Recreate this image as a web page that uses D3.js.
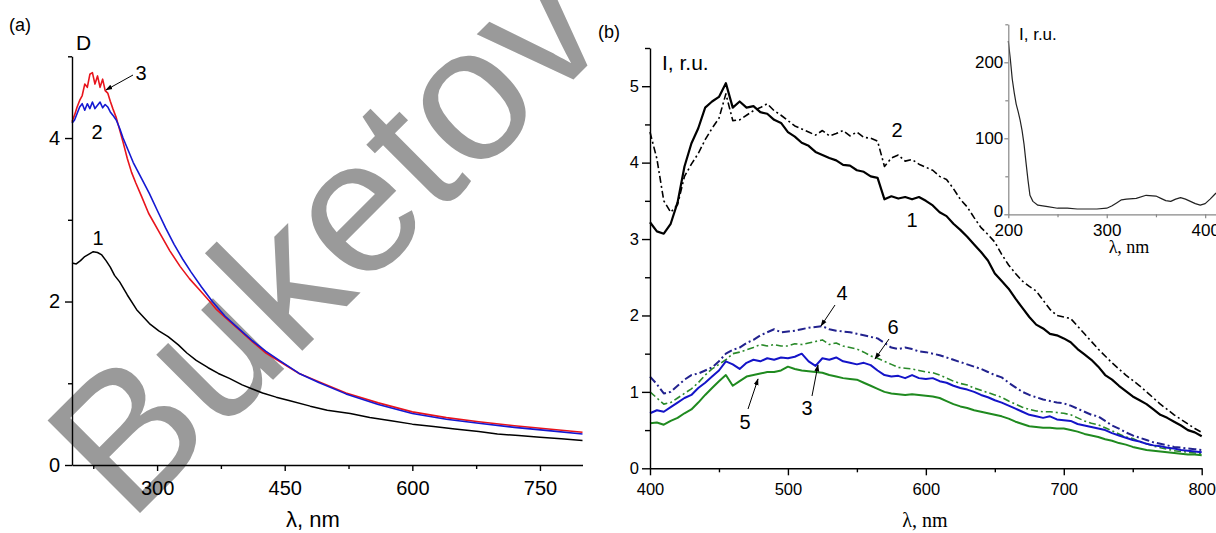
<!DOCTYPE html>
<html><head><meta charset="utf-8">
<script src="https://cdn.jsdelivr.net/npm/d3@7"></script>
<style>body{margin:0;background:#fff}svg{display:block}</style>
</head><body>
<script>
// ---------- Panel (a) data: absorption D vs wavelength ----------
const aTicksMajor = [300, 450, 600, 750];
const aTicksMinor = [225, 375, 525, 675];
const aYMajor = [0, 2, 4];
const aYMinor = [1, 3, 5];

const a1Lambda = [200,205,210,215,220,225,230,235,240,245,250,256,265,276,291,302,313,325,335,346,360,372,385,400,412,424,440,455,480,500,527,550,575,600,625,650,678,700,725,750,775,800];
const a1D      = [2.47,2.46,2.50,2.55,2.58,2.61,2.60,2.57,2.50,2.42,2.32,2.24,2.08,1.90,1.73,1.64,1.57,1.47,1.37,1.28,1.19,1.12,1.06,0.98,0.93,0.88,0.83,0.79,0.72,0.67,0.63,0.58,0.54,0.50,0.47,0.44,0.41,0.38,0.36,0.34,0.32,0.30];

const a2Lambda = [200,203,206,209,212,215,218,221,224,227,230,233,236,239,242,245,248,252,256,260,266,272,282,291,300,310,320,330,340,352,365,380,397,412,428,445,467,490,522,560,600,640,678,720,760,800];
const a2D      = [4.18,4.22,4.30,4.38,4.42,4.34,4.42,4.36,4.44,4.36,4.40,4.44,4.37,4.41,4.38,4.32,4.28,4.22,4.12,4.00,3.85,3.70,3.50,3.32,3.12,2.90,2.70,2.52,2.36,2.18,2.00,1.82,1.66,1.52,1.39,1.27,1.12,1.01,0.87,0.74,0.63,0.56,0.51,0.46,0.42,0.38];

const a3Lambda = [200,203,206,209,212,215,218,221,224,227,230,233,236,239,242,245,248,252,256,260,265,270,275,282,290,303,315,327,338,350,362,370,384,397,412,428,445,467,490,522,560,600,640,678,720,760,800];
const a3D      = [4.20,4.28,4.38,4.46,4.52,4.66,4.62,4.78,4.80,4.66,4.76,4.62,4.72,4.58,4.55,4.45,4.36,4.25,4.10,3.95,3.75,3.58,3.45,3.28,3.08,2.84,2.62,2.43,2.28,2.14,2.00,1.90,1.77,1.65,1.51,1.37,1.26,1.12,1.02,0.88,0.76,0.65,0.58,0.53,0.48,0.44,0.40];

// ---------- Panel (b) data: emission intensity ----------
const bTicksMajor = [400, 500, 600, 700, 800];
const bTicksMinor = [450, 550, 650, 750];
const bYMajor = [0, 1, 2, 3, 4, 5];
const bYMinor = [0.5, 1.5, 2.5, 3.5, 4.5, 5.5];

const bLambda = [400,405,410,415,420,425,430,435,440,445,450,455,460,465,470,475,480,485,490,495,500,505,510,515,520,525,530,535,540,545,550,555,560,565,570,575,580,585,590,595,600,605,610,615,620,625,630,635,640,645,650,655,660,665,670,675,680,685,690,695,700,705,710,715,720,725,730,735,740,745,750,755,760,765,770,775,780,785,790,795,800];

const b1 = [3.22,3.10,3.07,3.20,3.48,3.95,4.25,4.45,4.72,4.80,4.86,5.04,4.72,4.80,4.72,4.74,4.66,4.64,4.56,4.52,4.40,4.34,4.26,4.22,4.14,4.10,4.06,4.03,3.97,3.96,3.90,3.88,3.82,3.80,3.52,3.56,3.53,3.55,3.52,3.55,3.50,3.44,3.35,3.30,3.20,3.12,3.03,2.93,2.83,2.72,2.55,2.45,2.35,2.22,2.10,1.98,1.88,1.83,1.76,1.74,1.70,1.65,1.56,1.49,1.42,1.33,1.22,1.16,1.08,1.01,0.94,0.89,0.84,0.77,0.70,0.66,0.61,0.56,0.50,0.47,0.42];
const b2 = [4.40,4.05,3.50,3.35,3.45,3.82,3.98,4.12,4.30,4.45,4.58,4.90,4.55,4.56,4.62,4.68,4.72,4.77,4.68,4.62,4.55,4.48,4.44,4.40,4.36,4.42,4.35,4.38,4.42,4.35,4.40,4.33,4.32,4.28,3.95,4.06,4.10,4.02,4.04,3.98,3.94,3.90,3.82,3.78,3.66,3.52,3.42,3.28,3.15,3.06,2.96,2.80,2.66,2.55,2.45,2.38,2.32,2.20,2.08,2.00,1.98,1.96,1.86,1.76,1.66,1.56,1.47,1.38,1.30,1.22,1.15,1.08,1.00,0.92,0.84,0.77,0.70,0.64,0.58,0.52,0.47];
const b3 = [0.72,0.76,0.74,0.80,0.86,0.92,0.96,1.05,1.12,1.20,1.28,1.40,1.36,1.30,1.38,1.42,1.40,1.44,1.42,1.45,1.44,1.46,1.50,1.40,1.34,1.44,1.42,1.45,1.40,1.38,1.36,1.38,1.35,1.28,1.22,1.20,1.21,1.18,1.22,1.18,1.17,1.18,1.14,1.12,1.08,1.05,1.03,1.00,0.96,0.93,0.89,0.86,0.82,0.78,0.74,0.70,0.68,0.66,0.68,0.64,0.63,0.62,0.58,0.56,0.54,0.52,0.50,0.46,0.43,0.40,0.37,0.35,0.32,0.30,0.29,0.27,0.26,0.24,0.23,0.22,0.21];
const b4 = [1.20,1.10,0.98,1.00,1.08,1.16,1.22,1.24,1.28,1.32,1.40,1.50,1.55,1.58,1.64,1.68,1.74,1.78,1.82,1.78,1.79,1.80,1.82,1.84,1.85,1.86,1.82,1.80,1.79,1.78,1.76,1.74,1.72,1.70,1.64,1.58,1.56,1.58,1.56,1.53,1.52,1.50,1.48,1.45,1.42,1.39,1.36,1.33,1.30,1.26,1.22,1.19,1.12,1.06,1.00,0.96,0.93,0.90,0.88,0.86,0.85,0.82,0.78,0.74,0.70,0.68,0.62,0.56,0.52,0.47,0.43,0.40,0.37,0.34,0.32,0.30,0.28,0.27,0.26,0.25,0.24];
const b5 = [0.59,0.60,0.57,0.62,0.66,0.72,0.77,0.86,0.96,1.05,1.14,1.22,1.08,1.14,1.20,1.22,1.24,1.26,1.26,1.28,1.33,1.30,1.28,1.27,1.26,1.25,1.22,1.20,1.18,1.17,1.16,1.12,1.08,1.04,1.00,0.98,0.97,0.96,0.97,0.96,0.95,0.94,0.92,0.88,0.84,0.81,0.79,0.76,0.74,0.72,0.70,0.68,0.65,0.61,0.58,0.55,0.54,0.53,0.53,0.52,0.52,0.50,0.48,0.45,0.43,0.41,0.38,0.36,0.33,0.31,0.28,0.26,0.24,0.23,0.22,0.21,0.20,0.19,0.18,0.18,0.17];
const b6 = [1.00,0.92,0.84,0.86,0.92,0.98,1.04,1.12,1.22,1.30,1.36,1.42,1.50,1.52,1.55,1.58,1.62,1.60,1.62,1.60,1.60,1.63,1.62,1.64,1.66,1.68,1.62,1.64,1.60,1.58,1.56,1.52,1.47,1.44,1.40,1.36,1.32,1.31,1.30,1.28,1.26,1.25,1.22,1.18,1.14,1.11,1.09,1.05,1.02,0.99,0.96,0.93,0.88,0.84,0.80,0.77,0.75,0.74,0.74,0.73,0.72,0.70,0.66,0.62,0.59,0.57,0.53,0.49,0.45,0.41,0.39,0.35,0.32,0.29,0.27,0.25,0.23,0.22,0.21,0.20,0.19];

// ---------- Inset data ----------
const insXMajor = [200, 300, 400];
const insXMinor = [250, 350];
const insYMajor = [0, 100, 200];
const insYMinor = [50, 150, 250];
const insLambda = [200,202,204,206,208,210,212,214,216,218,220,222,225,230,240,250,260,270,280,290,300,305,310,315,320,330,340,350,355,360,365,370,375,380,385,390,395,400,405,411];
const insI      = [228,205,178,160,145,135,124,110,92,68,45,25,17,12,10,8,8,7,7,7,8,11,15,19,20,21,25,24,21,18,17,20,22,20,17,14,12,14,20,28];

// ---------- Drawing ----------
const W = 1216, H = 533;
const SANS = "'Liberation Sans', Arial, Helvetica, sans-serif";
const SERIF = "'Liberation Serif', 'Times New Roman', serif";
const svg = d3.select("body").append("svg").attr("width", W).attr("height", H);
svg.append("rect").attr("width", W).attr("height", H).attr("fill", "#fff");

const defs = svg.append("defs");
defs.append("marker").attr("id", "arr").attr("viewBox", "0 0 10 10")
  .attr("refX", 9).attr("refY", 5).attr("markerWidth", 7).attr("markerHeight", 7)
  .attr("orient", "auto").attr("markerUnits", "userSpaceOnUse")
  .append("path").attr("d", "M0,1.5 L10,5 L0,8.5 Z").attr("fill", "#000");

// Watermark (underneath the chart marks)
svg.append("text").attr("transform", "translate(129,524) rotate(-45)")
  .attr("font-family", SANS).attr("font-size", 190).attr("fill", "#9a9a9a")
  .text("Buketov");

function axes(g, x, y, o) {
  const color = o.color || "#000";
  const xa = g.append("g").attr("transform", `translate(0,${y.range()[0]})`)
    .call(d3.axisBottom(x).tickValues(o.xMajor).tickSize(o.xt).tickSizeOuter(0).tickPadding(o.xp).tickFormat(d3.format("d")));
  const xm = g.append("g").attr("transform", `translate(0,${y.range()[0]})`)
    .call(d3.axisBottom(x).tickValues(o.xMinor).tickSize(o.xtm).tickSizeOuter(0).tickFormat(""));
  const ya = g.append("g").attr("transform", `translate(${x.range()[0]},0)`)
    .call(d3.axisLeft(y).tickValues(o.yMajor).tickSize(o.yt).tickSizeOuter(0).tickPadding(o.yp).tickFormat(d3.format("d")));
  const ym = g.append("g").attr("transform", `translate(${x.range()[0]},0)`)
    .call(d3.axisLeft(y).tickValues(o.yMinor).tickSize(o.ytm).tickSizeOuter(0).tickFormat(""));
  [xm, ym].forEach(s => s.select(".domain").remove());
  [xa, xm, ya, ym].forEach(s => {
    s.selectAll("path,line").attr("stroke", color).attr("stroke-width", o.sw);
    s.selectAll("text").attr("font-family", SANS).attr("font-size", o.fs).attr("fill", "#000");
  });
  return ya;
}

function line(g, x, y, xs, ys, st) {
  const pts = xs.map((v, i) => [v, ys[i]]);
  g.append("path").datum(pts)
    .attr("d", d3.line().x(d => x(d[0])).y(d => y(d[1])))
    .attr("fill", "none").attr("stroke", st.c).attr("stroke-width", st.w)
    .attr("stroke-dasharray", st.dash || null).attr("stroke-linejoin", "round");
}

function label(g, t, x, y, fs, fam, anchor) {
  g.append("text").attr("x", x).attr("y", y).attr("font-family", fam || SANS)
    .attr("font-size", fs).attr("text-anchor", anchor || "middle").text(t);
}
function arrow(g, x1, y1, x2, y2) {
  g.append("line").attr("x1", x1).attr("y1", y1).attr("x2", x2).attr("y2", y2)
    .attr("stroke", "#000").attr("stroke-width", 1).attr("marker-end", "url(#arr)");
}

// Panel (a)
const gA = svg.append("g");
const xA = d3.scaleLinear().domain([200, 800]).range([72, 582.5]);
const yA = d3.scaleLinear().domain([0, 5]).range([465, 56.3]);
line(gA, xA, yA, a1Lambda, a1D, {c: "#000", w: 1.5});
line(gA, xA, yA, a3Lambda, a3D, {c: "#e8141c", w: 1.6});
line(gA, xA, yA, a2Lambda, a2D, {c: "#1418d2", w: 1.6});
axes(gA, xA, yA, {xMajor: aTicksMajor, xMinor: aTicksMinor, yMajor: aYMajor, yMinor: aYMinor,
  xt: 6, xtm: 4, xp: 10, yt: 7, ytm: 4, yp: 5, fs: 20, sw: 1.4});
label(gA, "(a)", 9, 31, 18, SANS, "start");
label(gA, "D", 76, 50, 21, SANS, "start");
label(gA, "λ, nm", 313, 527, 22, SANS);
label(gA, "3", 141, 80, 20);
arrow(gA, 133, 75, 106, 90);
label(gA, "2", 97, 139, 20);
label(gA, "1", 98, 245, 20);

// Panel (b)
const gB = svg.append("g");
const xB = d3.scaleLinear().domain([400, 800]).range([650, 1201.7]);
const yB = d3.scaleLinear().domain([0, 5.5]).range([468.3, 48]);
line(gB, xB, yB, bLambda, b5, {c: "#1f8a1f", w: 2});
line(gB, xB, yB, bLambda, b6, {c: "#2a8a2a", w: 1.6, dash: "7,3,2,3"});
line(gB, xB, yB, bLambda, b3, {c: "#1414c8", w: 2});
line(gB, xB, yB, bLambda, b4, {c: "#22228e", w: 2, dash: "8,3,2,3"});
line(gB, xB, yB, bLambda, b2, {c: "#000", w: 1.6, dash: "7,3,2,3"});
line(gB, xB, yB, bLambda, b1, {c: "#000", w: 2.2});
axes(gB, xB, yB, {xMajor: bTicksMajor, xMinor: bTicksMinor, yMajor: bYMajor, yMinor: bYMinor,
  xt: 7, xtm: 4, xp: 8, yt: 8, ytm: 5, yp: 3, fs: 16.5, sw: 1.4});
label(gB, "(b)", 598, 38, 18, SANS, "start");
label(gB, "I, r.u.", 662, 70, 21, SANS, "start");
label(gB, "λ, nm", 925, 527, 20, SERIF);
label(gB, "2", 897, 137, 20);
label(gB, "1", 912, 227, 20);
label(gB, "4", 842, 300, 20);
arrow(gB, 835, 305, 821, 326);
label(gB, "6", 893, 334, 20);
arrow(gB, 889, 339, 875, 359);
label(gB, "3", 807, 415, 20);
arrow(gB, 812, 396, 818, 365);
label(gB, "5", 745, 429, 20);
arrow(gB, 748, 409, 758, 379);

// Inset
const gI = svg.append("g");
const xI = d3.scaleLinear().domain([200, 411]).range([1008.3, 1216]);
const yI = d3.scaleLinear().domain([0, 250]).range([214.3, 24.3]);
line(gI, xI, yI, insLambda, insI, {c: "#222", w: 1.2});
const yaI = axes(gI, xI, yI, {xMajor: insXMajor, xMinor: insXMinor, yMajor: insYMajor, yMinor: insYMinor,
  xt: 4, xtm: 3, xp: 6, yt: 4, ytm: 3, yp: 1, fs: 17, sw: 1.2, color: "#888"});
yaI.selectAll(".tick text").filter(d => d === 0).attr("dy", "0.1em");
label(gI, "I, r.u.", 1019, 40, 17, SANS, "start");
label(gI, "λ, nm", 1129, 253, 18, SERIF);
</script>
</body></html>
